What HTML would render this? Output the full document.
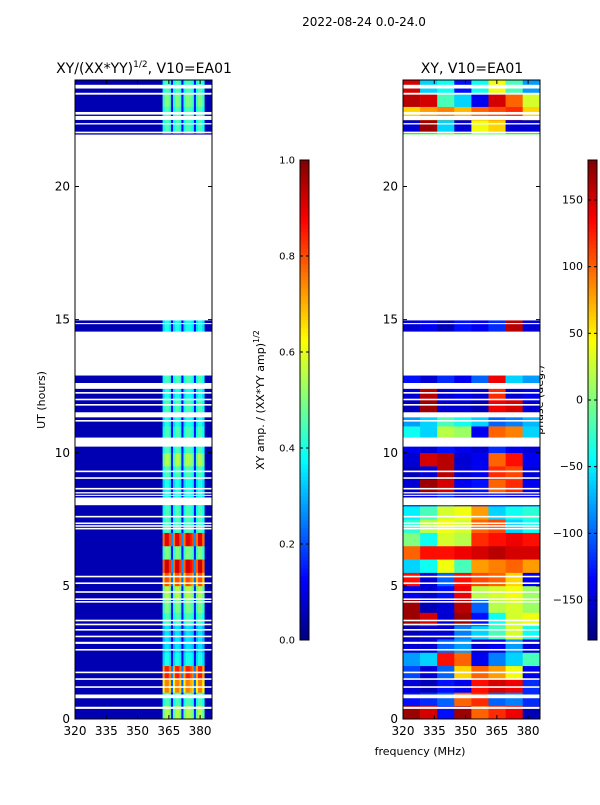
<!DOCTYPE html>
<html><head><meta charset="utf-8"><style>
html,body{margin:0;padding:0;background:#fff;}
svg text{font-family:"DejaVu Sans","Liberation Sans",sans-serif;}
</style></head><body>
<svg id="fig" width="600" height="800" viewBox="0 0 600 800" xmlns="http://www.w3.org/2000/svg">
<rect x="0" y="0" width="600" height="800" fill="#fff"/>
<text x="364" y="26" font-size="12" text-anchor="middle">2022-08-24 0.0-24.0</text>
<text x="144" y="73" font-size="14" text-anchor="middle">XY/(XX*YY)<tspan font-size="9" dy="-6">1/2</tspan><tspan dy="6">, V10=EA01</tspan></text>
<text x="472" y="73" font-size="14" text-anchor="middle">XY, V10=EA01</text>
<text x="420" y="755" font-size="11" text-anchor="middle">frequency (MHz)</text>
<text x="45" y="400" font-size="11" text-anchor="middle" transform="rotate(-90 45 400)">UT (hours)</text>
<text x="264" y="400" font-size="11" text-anchor="middle" transform="rotate(-90 264 400)">XY amp. / (XX*YY amp)<tspan font-size="8" dy="-5">1/2</tspan></text>
<text x="543" y="400" font-size="11" text-anchor="middle" transform="rotate(-90 543 400)">phase (deg.)</text>
<g id="left"></g>
<g id="right"></g>
<g id="cb"></g>
</svg>
<script>
// ---- data ----
const timeBinHours = 0.5;
const flaggedGaps = [[0.38,0.46],[0.78,0.92],[1.17,1.23],[1.47,1.53],[1.72,1.78],[2.57,2.63],[2.82,2.9],[3.07,3.13],[3.32,3.38],[3.52,3.58],[3.67,3.73],[4.37,4.43],[4.47,4.53],[4.74,4.8],[5.07,5.13],[5.32,5.38],[7.12,7.18],[7.22,7.28],[7.32,7.38],[7.57,7.63],[8.03,8.32],[8.38,8.42],[8.47,8.52],[8.62,8.68],[9.02,9.08],[9.27,9.33],[10.23,10.57],[11.17,11.23],[11.33,11.52],[11.77,11.83],[11.97,12.03],[12.22,12.28],[12.4,12.62],[12.9,14.55],[14.83,14.87],[14.97,21.95],[22.0,22.06],[22.33,22.38],[22.5,22.65],[22.7,22.8],[23.45,23.52],[23.68,23.82]];
const ampLevels = [0.55,0.45,0.75,0.85,0.4,0.35,0.35,0.45,0.5,0.55,0.8,0.92,0.5,0.9,0.45,0.45,0.4,0.4,0.45,0.55,0.45,0.45,0.4,0.45,0.4,0.45,0,0,0,0.4,0,0,0,0,0,0,0,0,0,0,0,0,0,0,0.45,0.45,0.5,0.45];
const bandChannels = [362,363,364,365,366,367,368,369,370,371,372,373,374,375,376,377,378,379,380,381];
const channelProfile = [0.85,1,1,0.9,0.3,0.85,1,1,0.9,0.3,0.85,1,1,0.95,0.9,0.3,0.85,1,1,0.85];
const ampBackground = 0.05;
const phaseFreqEdges = [320,328.2,336.4,344.6,352.8,361,369.2,377.4,385.7];
const phaseRows = [
[170,150,-130,170,100,120,140,-160],
[-130,-120,-100,100,120,-100,-90,-120],
[-150,-160,-130,-140,130,150,140,-120],
[-110,-150,-100,60,100,80,40,-140],
[-80,-60,130,100,-140,-90,-60,-20],
[-150,-150,-100,-80,-150,-140,-80,-150],
[-160,-150,-150,-90,-60,-20,30,-40],
[170,150,-150,170,-130,-40,30,40],
[170,-160,-150,160,-100,20,30,10],
[-140,-150,-130,140,20,30,40,10],
[130,-150,-100,130,110,100,60,-140],
[-60,-40,40,-20,80,90,100,80],
[100,130,130,140,150,160,150,150],
[0,-40,30,20,120,130,140,130],
[-30,20,40,30,100,110,-60,-40],
[-50,-20,30,40,80,-60,-40,-30],
[-150,-140,-120,-150,-140,-130,-150,-140],
[-150,170,150,-140,-130,100,120,-140],
[-160,-150,160,-150,-140,120,110,-150],
[-150,150,160,-150,-140,100,130,-140],
[-140,-150,-130,-140,-150,-120,-140,-150],
[-40,-60,20,10,-140,100,90,-60],
[-80,-60,-20,-40,-60,-100,-90,-70],
[-160,170,-150,-150,-160,140,150,-150],
[-150,160,-150,-140,-150,120,-150,-140],
[-130,-150,-120,-140,-100,140,-60,-80],
[0,0,0,0,0,0,0,0],[0,0,0,0,0,0,0,0],[0,0,0,0,0,0,0,0],
[-150,-140,-160,-130,-140,-120,160,-150],
[0,0,0,0,0,0,0,0],[0,0,0,0,0,0,0,0],[0,0,0,0,0,0,0,0],[0,0,0,0,0,0,0,0],
[0,0,0,0,0,0,0,0],[0,0,0,0,0,0,0,0],[0,0,0,0,0,0,0,0],[0,0,0,0,0,0,0,0],
[0,0,0,0,0,0,0,0],[0,0,0,0,0,0,0,0],[0,0,0,0,0,0,0,0],[0,0,0,0,0,0,0,0],
[0,0,0,0,0,0,0,0],[0,0,0,0,0,0,0,0],
[-150,170,-60,-150,40,60,-150,-150],
[60,80,90,70,100,110,120,60],
[160,150,-20,-60,-140,150,100,30],
[150,-60,-40,-130,-40,40,-20,-80]];
const xTicks = [320,335,350,365,380];
const yTicks = [0,5,10,15,20];
const ampTicks = [0.0,0.2,0.4,0.6,0.8,1.0];
const phaseTicks = [-150,-100,-50,0,50,100,150];

// ---- helpers ----
const NS = "http://www.w3.org/2000/svg";
function jet(v){
  v=Math.max(0,Math.min(1,v));
  const c=t=>Math.round(255*Math.max(0,Math.min(1,1.5-Math.abs(4*v-t))));
  return `rgb(${c(3)},${c(2)},${c(1)})`;
}
function mk(parent,tag,attrs){
  const e=document.createElementNS(NS,tag);
  for(const k in attrs) e.setAttribute(k,attrs[k]);
  parent.appendChild(e); return e;
}
const Y0=719, Y1=80;
const yScale=t=>Y0-(t/24)*(Y0-Y1);
const FMIN=320, FMAX=385.7;
function xScaleFor(x0,x1){return f=>x0+(f-FMIN)/(FMAX-FMIN)*(x1-x0);}

function panel(g,x0,x1,drawCells){
  const xs=xScaleFor(x0,x1);
  drawCells(g,xs);
  flaggedGaps.forEach(gp=>{
    const r=mk(g,'rect',{x:x0,y:yScale(gp[1]),width:x1-x0,height:yScale(gp[0])-yScale(gp[1]),fill:'#fff'});
    
    
  });
  const fr=mk(g,'rect',{x:x0,y:Y1,width:x1-x0,height:Y0-Y1,fill:'none',stroke:'#000','stroke-width':1});
  
  
  xTicks.forEach(f=>{
    const x=xs(f);
    mk(g,'line',{x1:x,x2:x,y1:Y0,y2:Y0-4,stroke:'#000'});
    mk(g,'line',{x1:x,x2:x,y1:Y1,y2:Y1+4,stroke:'#000'});
    const t=mk(g,'text',{x:x,y:Y0+16,'font-size':12,'text-anchor':'middle'});
    t.textContent=f;
    
    
  });
  yTicks.forEach(v=>{
    const y=yScale(v);
    mk(g,'line',{x1:x0,x2:x0+4,y1:y,y2:y,stroke:'#000'});
    mk(g,'line',{x1:x1,x2:x1-4,y1:y,y2:y,stroke:'#000'});
    const t=mk(g,'text',{x:x0-5,y:y+4,'font-size':12,'text-anchor':'end'});
    t.textContent=v;
    
    
  });
}

// left amplitude panel
panel(document.getElementById('left'),75,212,(g,xs)=>{
  mk(g,'rect',{x:75,y:Y1,width:137,height:Y0-Y1,fill:jet(ampBackground)});
  ampLevels.forEach((lv,i)=>{
    if(lv<=0) return;
    const ya=yScale((i+1)*timeBinHours), yb=yScale(i*timeBinHours);
    bandChannels.forEach((ch,j)=>{
      const r=mk(g,'rect',{x:xs(ch),y:ya,width:xs(ch+1)-xs(ch)+0.3,height:yb-ya+0.3,fill:jet(Math.max(ampBackground,lv*channelProfile[j]))});
      
      
    });
  });
});

// right phase panel
panel(document.getElementById('right'),403,540,(g,xs)=>{
  phaseRows.forEach((row,i)=>{
    const ya=yScale((i+1)*timeBinHours), yb=yScale(i*timeBinHours);
    row.forEach((p,j)=>{
      const xa=xs(phaseFreqEdges[j]), xb=xs(phaseFreqEdges[j+1]);
      const r=mk(g,'rect',{x:xa,y:ya,width:xb-xa+0.3,height:yb-ya+0.3,fill:jet((p+180)/360)});
      
      
    });
  });
});

// colorbars (labels on the left side)
function colorbar(g,x,ticks,vmin,vmax,fmt,name,fs){
  const top=160,bot=640,w=9;
  for(let k=0;k<120;k++){
    const v=k/120;
    mk(g,'rect',{x:x,y:bot-(k+1)*(bot-top)/120,width:w,height:(bot-top)/120+0.5,fill:jet(v+0.5/120)});
  }
  const b=mk(g,'rect',{x:x,y:top,width:w,height:bot-top,fill:'none',stroke:'#000'});
  
  
  ticks.forEach(v=>{
    const y=bot-(v-vmin)/(vmax-vmin)*(bot-top);
    mk(g,'line',{x1:x,x2:x+3,y1:y,y2:y,stroke:'#000'});
    mk(g,'line',{x1:x+w-3,x2:x+w,y1:y,y2:y,stroke:'#000'});
    const t=mk(g,'text',{x:x-5,y:y+3.5,'font-size':fs,'text-anchor':'end'});
    t.textContent=fmt(v);
    
    
  });
}
const cb=document.getElementById('cb');
colorbar(cb,300,ampTicks,0,1,v=>v.toFixed(1),'amp-colorbar',10);
colorbar(cb,588,phaseTicks,-180,180,v=>v<0?'\u2212'+Math.abs(v):String(v),'phase-colorbar',11);
</script>
</body></html>
